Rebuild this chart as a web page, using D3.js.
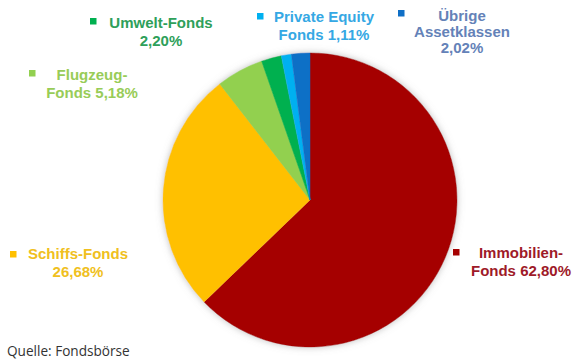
<!DOCTYPE html>
<html>
<head>
<meta charset="utf-8">
<script src="https://cdn.jsdelivr.net/npm/d3@7"></script>
<style>
  html, body { margin: 0; padding: 0; background: #ffffff; }
  svg { display: block; }
</style>
</head>
<body>
<svg id="chart" width="574" height="361"></svg>
<script>
// Fund categories, in drawing order (clockwise from 12 o'clock)
const categories = ["Immobilien", "Schiffs", "Flugzeug", "Umwelt", "Private Equity", "Übrige"];
// Share of each category, percent
const values = [62.80, 26.68, 5.18, 2.20, 1.11, 2.02];
// Label text lines; the value is appended to the last line
const labelLines = [
  ["Immobilien-", "Fonds "],
  ["Schiffs-Fonds", ""],
  ["Flugzeug-", "Fonds "],
  ["Umwelt-Fonds", ""],
  ["Private Equity", "Fonds "],
  ["Übrige", "Assetklassen", ""]
];
const sourceNote = "Quelle: Fondsbörse";

// Styling
const sliceColors = ["#a50000", "#ffc000", "#92d050", "#00b050", "#00b0f0", "#0f6fc6"];
const labelColors = ["#9e1a28", "#f0c020", "#98cc58", "#2ea05a", "#35a8e4", "#6482b8"];

// Label placement: text centre x, first baseline y, marker top-left, line height
const labelLayout = [
  { cx: 521, y: 258, mx: 453, my: 249, lh: 18 },
  { cx: 78,  y: 259, mx: 10,  my: 251, lh: 18 },
  { cx: 92,  y: 80,  mx: 29,  my: 70,  lh: 18 },
  { cx: 161, y: 28,  mx: 90,  my: 18,  lh: 18 },
  { cx: 324, y: 22,  mx: 257, my: 13,  lh: 17.5 },
  { cx: 462, y: 21,  mx: 398, my: 10,  lh: 16 }
];

const fmt = v => d3.format(".2f")(v).replace(".", ",") + "%";

const svg = d3.select("#chart");

// Soft shadow around the pie
const defs = svg.append("defs");
const f = defs.append("filter").attr("id", "pieShadow")
  .attr("x", "-20%").attr("y", "-20%").attr("width", "140%").attr("height", "140%");
f.append("feDropShadow").attr("dx", 0).attr("dy", 0).attr("stdDeviation", 3.5)
  .attr("flood-color", "#808080").attr("flood-opacity", 0.5);

const cx = 310, cy = 200, radius = 147;

const pie = d3.pie().sort(null).value(d => d.value);
const arc = d3.arc().innerRadius(0).outerRadius(radius);

const data = categories.map((c, i) => ({ name: c, value: values[i], i }));

const g = svg.append("g")
  .attr("transform", `translate(${cx},${cy})`)
  .attr("filter", "url(#pieShadow)");

g.selectAll("path")
  .data(pie(data))
  .join("path")
  .attr("d", arc)
  .attr("fill", d => sliceColors[d.data.i])
  .attr("stroke", d => sliceColors[d.data.i])
  .attr("stroke-width", 0.5);

// Labels with square markers
const labels = svg.append("g").attr("class", "labels");
data.forEach((d, i) => {
  const L = labelLayout[i];
  labels.append("rect")
    .attr("x", L.mx).attr("y", L.my)
    .attr("width", 6.5).attr("height", 6.5)
    .attr("fill", sliceColors[i]);
  const lines = labelLines[i].slice();
  lines[lines.length - 1] = lines[lines.length - 1] + fmt(d.value);
  const t = labels.append("text")
    .attr("x", L.cx).attr("y", L.y)
    .attr("text-anchor", "middle")
    .attr("font-family", "'Liberation Sans', Arial, sans-serif")
    .attr("font-weight", "bold")
    .attr("font-size", 15)
    .attr("fill", labelColors[i]);
  lines.forEach((ln, k) => {
    t.append("tspan").attr("x", L.cx).attr("dy", k === 0 ? 0 : L.lh).text(ln);
  });
});

// Source note
svg.append("text")
  .attr("x", 7).attr("y", 356)
  .attr("font-family", "'Open Sans', sans-serif")
  .attr("font-size", 13.6)
  .attr("fill", "#333333")
  .text(sourceNote);
</script>
</body>
</html>
